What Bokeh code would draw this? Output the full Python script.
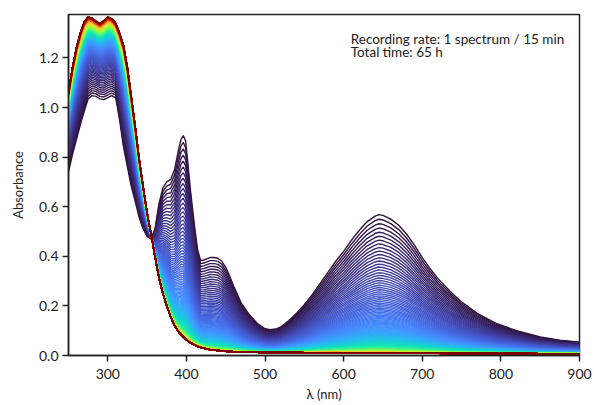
import numpy as np
from bokeh.plotting import figure
from bokeh.models import FixedTicker, Label, Range1d, CustomJSTickFormatter
from bokeh.palettes import Turbo256
from bokeh.embed import file_html
from bokeh.resources import INLINE

# wavelength grid (nm)
wavelength = [250, 255, 260, 265, 270, 275, 280, 285, 290, 295, 300, 305, 310, 315, 320,
              325, 330, 335, 340, 345, 350, 355, 360, 365, 370, 375, 380, 385, 390, 393,
              396, 399, 402, 405, 410, 414, 418, 422, 426, 430, 435, 440, 445, 450, 455,
              460, 470, 480, 490, 500, 507, 515, 520, 530, 540, 550, 560, 570, 580, 590,
              600, 610, 620, 630, 640, 645, 650, 660, 670, 680, 690, 700, 710, 720, 735,
              750, 770, 795, 820, 850, 875, 900]

# first spectrum (t = 0)
absorb_start = [0.74, 0.81, 0.87, 0.93, 0.985, 1.035, 1.048, 1.045, 1.035, 1.032, 1.040, 1.048, 1.040, 0.95, 0.84,
                0.76, 0.68, 0.62, 0.555, 0.51, 0.48, 0.47, 0.51, 0.61, 0.675, 0.70, 0.71, 0.75, 0.83, 0.87,
                0.887, 0.865, 0.77, 0.67, 0.53, 0.43, 0.382, 0.385, 0.39, 0.395, 0.395, 0.392, 0.38, 0.355, 0.32,
                0.28, 0.21, 0.165, 0.13, 0.108, 0.104, 0.108, 0.115, 0.14, 0.17, 0.205, 0.245, 0.29, 0.335, 0.38,
                0.42, 0.465, 0.505, 0.54, 0.562, 0.568, 0.565, 0.55, 0.525, 0.49, 0.445, 0.395, 0.35, 0.31, 0.26,
                0.215, 0.17, 0.128, 0.10, 0.075, 0.062, 0.054]

# last spectrum (t = 65 h)
absorb_end = [1.06, 1.16, 1.24, 1.30, 1.345, 1.365, 1.36, 1.348, 1.338, 1.35, 1.365, 1.358, 1.34, 1.30, 1.25,
              1.16, 1.04, 0.92, 0.79, 0.68, 0.575, 0.49, 0.40, 0.315, 0.25, 0.20, 0.155, 0.12, 0.095, 0.085,
              0.075, 0.066, 0.058, 0.052, 0.043, 0.037, 0.032, 0.029, 0.026, 0.024, 0.022, 0.020, 0.018, 0.017, 0.016,
              0.015, 0.014, 0.013, 0.013, 0.012, 0.012, 0.012, 0.012, 0.012, 0.012, 0.011, 0.011, 0.011, 0.011, 0.011,
              0.010, 0.010, 0.010, 0.010, 0.010, 0.010, 0.010, 0.010, 0.009, 0.009, 0.009, 0.009, 0.009, 0.009, 0.008,
              0.008, 0.008, 0.008, 0.008, 0.007, 0.007, 0.007]

n_spectra = 261              # 1 spectrum / 15 min over 65 h
isosbestic_nm = 357          # crossing point of all spectra
decay_rate_bands = 0.034
growth_rate_uv = 0.030       # per spectrum, UV product band (< isosbestic), slower with long tail

x_ticks = [300, 400, 500, 600, 700, 800, 900]
y_ticks = [0.0, 0.2, 0.4, 0.6, 0.8, 1.0, 1.2]

note_lines = ["Recording rate: 1 spectrum / 15 min", "Total time: 65 h"]

wl = np.array(wavelength, dtype=float)
a0 = np.array(absorb_start)
a1 = np.array(absorb_end)
uv = wl < isosbestic_nm
f_end_uv = 1.0 / (1.0 + growth_rate_uv * (n_spectra - 1))
xs, ys, cols = [], [], []
for i in range(n_spectra):
    g_fast = np.exp(-decay_rate_bands * i)
    g_slow = (1.0 / (1.0 + growth_rate_uv * i) - f_end_uv) / (1.0 - f_end_uv)
    g = np.where(uv, g_slow, g_fast)
    xs.append(wl)
    ys.append(a1 + (a0 - a1) * g)
    cols.append(Turbo256[int(round(i * 255 / (n_spectra - 1)))])

FONT = "Lato"
INK = "#222222"

p = figure(width=594, height=405, output_backend="svg", toolbar_location=None,
           x_range=Range1d(250, 900), y_range=Range1d(0, 1.375),
           min_border_left=68, min_border_right=15, min_border_top=14, min_border_bottom=50)

p.multi_line(xs, ys, line_color=cols, line_width=1.4)

p.grid.visible = False
p.outline_line_color = INK
p.outline_line_width = 1.5
p.background_fill_color = "white"
p.border_fill_color = "white"

for ax in (p.xaxis[0], p.yaxis[0]):
    ax.axis_line_color = INK
    ax.axis_line_width = 1.5
    ax.major_tick_line_color = INK
    ax.major_tick_line_width = 1.5
    ax.major_tick_in = 0
    ax.major_tick_out = 6
    ax.minor_tick_line_color = None
    ax.major_label_text_font = FONT
    ax.major_label_text_font_size = "14px"
    ax.major_label_text_color = INK
    ax.axis_label_text_font = FONT
    ax.axis_label_text_font_size = "13px"
    ax.axis_label_text_font_style = "normal"
    ax.axis_label_text_color = INK

p.xaxis.ticker = FixedTicker(ticks=x_ticks)
p.yaxis.ticker = FixedTicker(ticks=y_ticks)
p.yaxis.formatter = CustomJSTickFormatter(code="return tick.toFixed(1);")
p.xaxis.axis_label = "λ (nm)"
p.yaxis.axis_label = "Absorbance"
p.xaxis.major_label_standoff = 7
p.yaxis.major_label_standoff = 4
p.xaxis.axis_label_standoff = 4
p.yaxis.axis_label_standoff = 10

for k, txt in enumerate(note_lines):
    p.add_layout(Label(x=609, y=1.277 - 0.052 * k, text=txt, text_font=FONT,
                       text_font_size="13.5px", text_color=INK,
                       text_baseline="alphabetic"))

open("out.html", "w").write(file_html(p, INLINE))
